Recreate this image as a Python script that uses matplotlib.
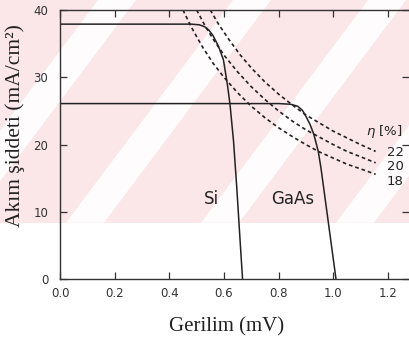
import matplotlib
matplotlib.use('Agg')
import matplotlib.pyplot as plt
from matplotlib.patches import Rectangle, Polygon

# I-V curves (voltage, current density)
si_v = [0.0, 0.48, 0.51, 0.53, 0.545, 0.56, 0.58, 0.598, 0.613, 0.622, 0.635, 0.647, 0.657, 0.668]
si_i = [37.9, 37.9, 37.8, 37.5, 37.0, 36.2, 34.6, 32.6, 28.8, 26.0, 20.5, 13.5, 7.0, 0.0]

gaas_v = [0.0, 0.80, 0.844, 0.87, 0.887, 0.90, 0.915, 0.929, 0.945, 0.955, 0.965, 0.975, 0.99, 1.01]
gaas_i = [26.1, 26.1, 26.0, 25.7, 25.1, 24.2, 23.0, 21.5, 19.0, 16.5, 13.5, 10.5, 6.0, 0.0]

# constant efficiency lines
eta18_v = [0.45, 0.48, 0.52, 0.56, 0.60, 0.65, 0.70, 0.75, 0.80, 0.85, 0.90, 0.95, 1.00, 1.05, 1.10, 1.155]
eta18_i = [40.0, 37.5, 34.6, 32.1, 30.0, 27.7, 25.7, 24.0, 22.5, 21.2, 20.0, 18.9, 18.0, 17.1, 16.4, 15.6]

eta20_v = [0.50, 0.53, 0.56, 0.60, 0.65, 0.70, 0.75, 0.80, 0.85, 0.90, 0.95, 1.00, 1.05, 1.10, 1.155]
eta20_i = [40.0, 37.7, 35.7, 33.3, 30.8, 28.6, 26.7, 25.0, 23.5, 22.2, 21.1, 20.0, 19.0, 18.2, 17.3]

eta22_v = [0.55, 0.58, 0.62, 0.66, 0.70, 0.75, 0.80, 0.85, 0.90, 0.95, 1.00, 1.05, 1.10, 1.155]
eta22_i = [40.0, 37.9, 35.5, 33.3, 31.4, 29.3, 27.5, 25.9, 24.4, 23.2, 22.0, 21.0, 20.0, 19.0]

eta_labels = ['22', '20', '18']
x_ticks = [0.0, 0.2, 0.4, 0.6, 0.8, 1.0, 1.2]
x_ticklabels = ['0.0', '0.2', '0.4', '0.6', '0.8', '1.0', '1.2']
y_ticks = [0, 10, 20, 30, 40]

INK = '#222222'

fig = plt.figure(figsize=(4.09, 3.39), dpi=100)

# pink striped watermark behind the plot (pixel coords)
bg = fig.add_axes([0, 0, 1, 1], zorder=0)
bg.set_xlim(0, 409)
bg.set_ylim(339, 0)
bg.axis('off')
band_bottom = 222.7
bg.add_patch(Rectangle((0, 0), 409, band_bottom, color='#fbe6e8', lw=0))
for xb in [-50, 85, 220, 355]:
    shift = 0.75 * band_bottom
    hw = 19
    bg.add_patch(Polygon([(xb - hw, band_bottom), (xb + hw, band_bottom),
                          (xb + hw + shift, 0), (xb - hw + shift, 0)],
                         closed=True, color='white', alpha=0.9, lw=0))

ax = fig.add_axes([60 / 409, 59.7 / 339, 349 / 409, 269.3 / 339], zorder=1)
ax.set_facecolor('none')

ax.plot(si_v, si_i, color=INK, lw=1.1)
ax.plot(gaas_v, gaas_i, color=INK, lw=1.1)
for v, i in [(eta22_v, eta22_i), (eta20_v, eta20_i), (eta18_v, eta18_i)]:
    ax.plot(v, i, color=INK, lw=1.2, linestyle=(0, (2.2, 1.8)))

ax.set_xlim(0, 1.277)
ax.set_ylim(0, 40)
ax.set_xticks(x_ticks)
ax.set_xticklabels(x_ticklabels)
ax.set_yticks(y_ticks)

for side in ['left', 'top', 'bottom']:
    ax.spines[side].set_color('#333333')
    ax.spines[side].set_linewidth(1.0)
ax.spines['right'].set_visible(False)

ax.tick_params(axis='x', direction='in', top=True, length=5, width=0.9,
               pad=5.5, labelsize=8.5, color='#333333', labelcolor='#333333')
ax.tick_params(axis='y', direction='in', right=True, length=5, width=0.9,
               pad=8.5, labelsize=8.5, color='#333333', labelcolor='#333333')

ax.text(0.555, 11.9, 'Si', fontsize=12, color=INK, ha='center', va='center')
ax.text(0.853, 11.9, 'GaAs', fontsize=12, color=INK, ha='center', va='center')
ax.text(1.12, 21.9, r'$\eta$ [%]', fontsize=9.5, color=INK, ha='left', va='center',
        clip_on=False)
for lab, y in zip(eta_labels, [18.9, 16.8, 14.6]):
    ax.text(1.195, y, lab, fontsize=9.5, color=INK, ha='left', va='center', clip_on=False)

fig.text(0.553, 0.036, 'Gerilim (mV)', family='Liberation Serif', fontsize=15,
         color=INK, ha='center', va='center')
fig.text(0.037, 0.631, 'Akım şiddeti (mA/cm²)', family='Liberation Serif', fontsize=15.5,
         color=INK, ha='center', va='center', rotation=90)

fig.savefig('out.png', dpi=100)
